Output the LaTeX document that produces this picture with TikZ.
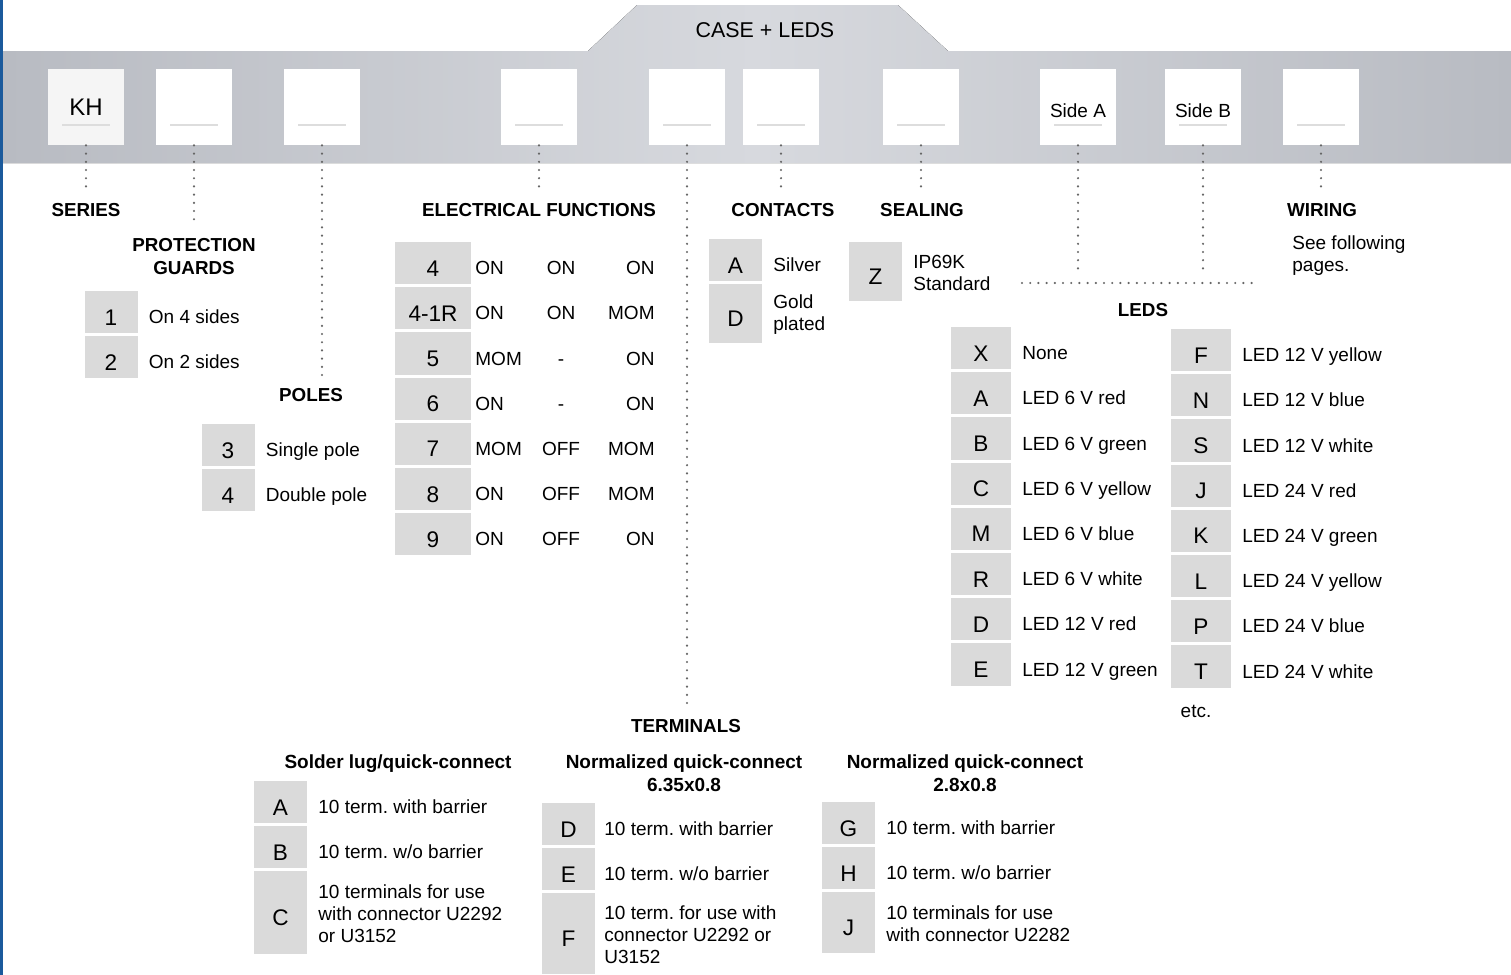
\documentclass[tikz,border=0pt]{standalone}
\usepackage{fontspec}
\setmainfont{Liberation Sans}
\frenchspacing
\usetikzlibrary{calc,positioning}

\definecolor{keygray}{HTML}{DADADA}
\definecolor{leadgray}{HTML}{666666}
\definecolor{bandedge}{HTML}{B8BBC2}
\definecolor{bandmid}{HTML}{D7D9DE}
\definecolor{edgeblue}{HTML}{1B5A9C}
\definecolor{ulgray}{HTML}{DDDDDD}

\begin{document}
\begin{tikzpicture}[
  x=0.5pt, y=-0.5pt,
  node distance=1.5pt,
  slot/.style={fill=white, minimum width=38pt, minimum height=38pt, inner sep=0pt,
               font=\fontsize{9.5}{11}\selectfont,
               path picture={\draw[ulgray, line width=1pt]
                 ([xshift=-12pt, yshift=-9pt]path picture bounding box.center) --
                 ([xshift=12pt, yshift=-9pt]path picture bounding box.center);}},
  key/.style={fill=keygray, minimum width=#1, minimum height=21.1pt, inner sep=0pt,
              outer sep=0pt, text height=12.9pt, text depth=0pt,
              font=\fontsize{11.3}{13}\selectfont},
  key/.default=26.5pt,
  desc/.style={anchor=base west, yshift=-5.8pt, inner sep=0pt,
               font=\fontsize{9.5}{11}\selectfont},
  descm/.style={anchor=west, yshift=-0.5pt, inner sep=0pt, align=left,
                font=\fontsize{9.5}{11}\selectfont},
  head/.style={font=\bfseries\fontsize{9.4}{11.5}\selectfont, align=center, inner sep=1pt},
  sub/.style={font=\bfseries\fontsize{9.5}{11.5}\selectfont, align=center, inner sep=1pt},
  lead/.style={leadgray, line width=1.2pt, line cap=round,
               dash pattern=on 0pt off 4.1pt, shorten >=5pt},
]
\useasboundingbox (0,0) rectangle (1511,975);
\fill[white] (0,0) rectangle (1511,975);
\fill[edgeblue] (0,0) rectangle (2.5,975);

% ---- metal band with case tab ----
\fill[left color=bandedge, right color=bandedge, middle color=bandmid]
  (3,163) -- (3,51) -- (588,51) -- (637,5) -- (898,5) -- (948,51)
  -- (1511,51) -- (1511,163) -- cycle;
\node[font=\fontsize{10.7}{12}\selectfont] (case) at (765,30) {CASE + LEDS};

% ---- code slots ----
\node[slot, fill=black!4, font=\fontsize{12}{14}\selectfont] (kh) at (86,107) {KH};
\node[slot] (guard) at (194,107) {};
\node[slot] (pole)  at (322,107) {};
\node[slot] (func)  at (539,107) {};
\node[slot] (term)  at (687,107) {};
\node[slot] (cont)  at (781,107) {};
\node[slot] (seal)  at (921,107) {};
\node[slot, text height=10.3pt, text depth=0pt] (sidea) at (1078,107) {Side A};
\node[slot, text height=10.3pt, text depth=0pt] (sideb) at (1203,107) {Side B};
\node[slot] (wire)  at (1321,107) {};

% ---- headings ----
\node[head] (hseries) at (86,210)    {SERIES};
\node[head] (hguard)  at (194,256.5) {PROTECTION\\GUARDS};
\node[head] (hpole)   at (311,395)   {POLES};
\node[head] (hfunc)   at (539,210)   {ELECTRICAL FUNCTIONS};
\node[head] (hcont)   at (783,210)   {CONTACTS};
\node[head] (hseal)   at (922,210)   {SEALING};
\node[head] (hwire)   at (1322,210)  {WIRING};
\node[head] (hleds)   at (1143,310)  {LEDS};
\node[head] (hterm)   at (686,726)   {TERMINALS};

% ---- leaders ----
\coordinate (barl) at (1022,283);
\coordinate (barr) at (1258,283);
\draw[lead] (kh.south)    -- (hseries.north);
\draw[lead] (guard.south) -- (hguard.north);
\draw[lead] (pole.south)  -- (pole.south |- hpole.north);
\draw[lead] (func.south)  -- (hfunc.north);
\draw[lead] (term.south)  -- (term.south |- hterm.north);
\draw[lead] (cont.south)  -- (cont.south |- hcont.north);
\draw[lead] (seal.south)  -- (seal.south |- hseal.north);
\draw[lead] (wire.south)  -- (wire.south |- hwire.north);
\draw[lead] (sidea.south) -- (sidea.south |- barl);
\draw[lead] (sideb.south) -- (sideb.south |- barl);
\draw[lead, shorten >=0pt] (barl) -- (barr);

% ---- protection guards ----
\node[key] (g1) at (111,312.1) {1};
\node[key, below=of g1] (g2) {2};
\node[desc] (g1t) at ([xshift=5.5pt]g1.east) {On 4 sides};
\node[desc] (g2t) at ([xshift=5.5pt]g2.east) {On 2 sides};

% ---- poles ----
\node[key] (p3) at (228,445.1) {3};
\node[key, below=of p3] (p4) {4};
\node[desc] (p3t) at ([xshift=5.5pt]p3.east) {Single pole};
\node[desc] (p4t) at ([xshift=5.5pt]p4.east) {Double pole};

% ---- electrical functions ----
\node[key=38pt] (f4) at (433,263.1) {4};
\node[key=38pt, below=of f4]   (f41r) {4-1R};
\node[key=38pt, below=of f41r] (f5)   {5};
\node[key=38pt, below=of f5]   (f6)   {6};
\node[key=38pt, below=of f6]   (f7)   {7};
\node[key=38pt, below=of f7]   (f8)   {8};
\node[key=38pt, below=of f8]   (f9)   {9};

\node[desc] (f4a) at ([xshift=2pt]f4.east) {ON};
\node[desc, anchor=base] (f4b) at ([xshift=64pt]f4.center) {ON};
\node[desc, anchor=base east] (f4c) at ([xshift=111pt]f4.center) {ON};
\node[desc] (f41ra) at ([xshift=2pt]f41r.east) {ON};
\node[desc, anchor=base] (f41rb) at ([xshift=64pt]f41r.center) {ON};
\node[desc, anchor=base east] (f41rc) at ([xshift=111pt]f41r.center) {MOM};
\node[desc] (f5a) at ([xshift=2pt]f5.east) {MOM};
\node[desc, anchor=base] (f5b) at ([xshift=64pt]f5.center) {-};
\node[desc, anchor=base east] (f5c) at ([xshift=111pt]f5.center) {ON};
\node[desc] (f6a) at ([xshift=2pt]f6.east) {ON};
\node[desc, anchor=base] (f6b) at ([xshift=64pt]f6.center) {-};
\node[desc, anchor=base east] (f6c) at ([xshift=111pt]f6.center) {ON};
\node[desc] (f7a) at ([xshift=2pt]f7.east) {MOM};
\node[desc, anchor=base] (f7b) at ([xshift=64pt]f7.center) {OFF};
\node[desc, anchor=base east] (f7c) at ([xshift=111pt]f7.center) {MOM};
\node[desc] (f8a) at ([xshift=2pt]f8.east) {ON};
\node[desc, anchor=base] (f8b) at ([xshift=64pt]f8.center) {OFF};
\node[desc, anchor=base east] (f8c) at ([xshift=111pt]f8.center) {MOM};
\node[desc] (f9a) at ([xshift=2pt]f9.east) {ON};
\node[desc, anchor=base] (f9b) at ([xshift=64pt]f9.center) {OFF};
\node[desc, anchor=base east] (f9c) at ([xshift=111pt]f9.center) {ON};

% ---- contacts and sealing ----
\node[key] (ca) at (735.5,260.1) {A};
\node[key, below=of ca, minimum height=29.5pt] (cd) {D};
\node[desc]  (cat) at ([xshift=5.5pt]ca.east) {Silver};
\node[descm] (cdt) at ([xshift=5.5pt]cd.east) {Gold\\plated};

\node[key, minimum height=29.5pt] (sz) at (875.5,271.5) {Z};
\node[descm] (szt) at ([xshift=5.5pt]sz.east) {IP69K\\Standard};

% ---- wiring ----
\node[descm] (wiret) at (1292,255) {See following\\pages.};

% ---- leds, left column ----
\node[key=30pt] (lx) at (981,348.1) {X};
\node[key=30pt, below=of lx] (la) {A};
\node[key=30pt, below=of la] (lb) {B};
\node[key=30pt, below=of lb] (lc) {C};
\node[key=30pt, below=of lc] (lm) {M};
\node[key=30pt, below=of lm] (lr) {R};
\node[key=30pt, below=of lr] (ld) {D};
\node[key=30pt, below=of ld] (le) {E};
\node[desc] (lxt) at ([xshift=5.5pt]lx.east) {None};
\node[desc] (lat) at ([xshift=5.5pt]la.east) {LED 6 V red};
\node[desc] (lbt) at ([xshift=5.5pt]lb.east) {LED 6 V green};
\node[desc] (lct) at ([xshift=5.5pt]lc.east) {LED 6 V yellow};
\node[desc] (lmt) at ([xshift=5.5pt]lm.east) {LED 6 V blue};
\node[desc] (lrt) at ([xshift=5.5pt]lr.east) {LED 6 V white};
\node[desc] (ldt) at ([xshift=5.5pt]ld.east) {LED 12 V red};
\node[desc] (let) at ([xshift=5.5pt]le.east) {LED 12 V green};

% ---- leds, right column ----
\node[key=30pt] (rf) at (1201,350.1) {F};
\node[key=30pt, below=of rf] (rn) {N};
\node[key=30pt, below=of rn] (rs) {S};
\node[key=30pt, below=of rs] (rj) {J};
\node[key=30pt, below=of rj] (rk) {K};
\node[key=30pt, below=of rk] (rl) {L};
\node[key=30pt, below=of rl] (rp) {P};
\node[key=30pt, below=of rp] (rt) {T};
\node[desc] (rft) at ([xshift=5.5pt]rf.east) {LED 12 V yellow};
\node[desc] (rnt) at ([xshift=5.5pt]rn.east) {LED 12 V blue};
\node[desc] (rst) at ([xshift=5.5pt]rs.east) {LED 12 V white};
\node[desc] (rjt) at ([xshift=5.5pt]rj.east) {LED 24 V red};
\node[desc] (rkt) at ([xshift=5.5pt]rk.east) {LED 24 V green};
\node[desc] (rlt) at ([xshift=5.5pt]rl.east) {LED 24 V yellow};
\node[desc] (rpt) at ([xshift=5.5pt]rp.east) {LED 24 V blue};
\node[desc] (rtt) at ([xshift=5.5pt]rt.east) {LED 24 V white};
\node[font=\fontsize{9.5}{11}\selectfont] (etc) at (1196,711) {etc.};

% ---- terminals ----
\node[sub, anchor=base] (hsol) at (398,768.6) {Solder lug/quick-connect};
\node[sub] (hn635) at (684,773.5) {Normalized quick-connect\\6.35x0.8};
\node[sub] (hn28)  at (965,773.5) {Normalized quick-connect\\2.8x0.8};

\node[key] (ta) at (280.5,802.1) {A};
\node[key, below=of ta] (tb) {B};
\node[key, below=of tb, minimum height=41.5pt] (tc) {C};
\node[desc]  (tat) at ([xshift=5.5pt]ta.east) {10 term. with barrier};
\node[desc]  (tbt) at ([xshift=5.5pt]tb.east) {10 term. w/o barrier};
\node[descm] (tct) at ([xshift=5.5pt]tc.east) {10 terminals for use\\with connector U2292\\or U3152};

\node[key] (td) at (568.5,824.1) {D};
\node[key, below=of td] (te) {E};
\node[key, below=of te, minimum height=40.5pt] (tf) {F};
\node[desc]  (tdt) at ([xshift=4.5pt]td.east) {10 term. with barrier};
\node[desc]  (tet) at ([xshift=4.5pt]te.east) {10 term. w/o barrier};
\node[descm] (tft) at ([xshift=4.5pt]tf.east) {10 term. for use with\\connector U2292 or\\U3152};

\node[key] (tg) at (848.5,823.1) {G};
\node[key, below=of tg] (th) {H};
\node[key, below=of th, minimum height=30.5pt] (tj) {J};
\node[desc]  (tgt) at ([xshift=5.5pt]tg.east) {10 term. with barrier};
\node[desc]  (tht) at ([xshift=5.5pt]th.east) {10 term. w/o barrier};
\node[descm] (tjt) at ([xshift=5.5pt]tj.east) {10 terminals for use\\with connector U2282};

\end{tikzpicture}
\end{document}
